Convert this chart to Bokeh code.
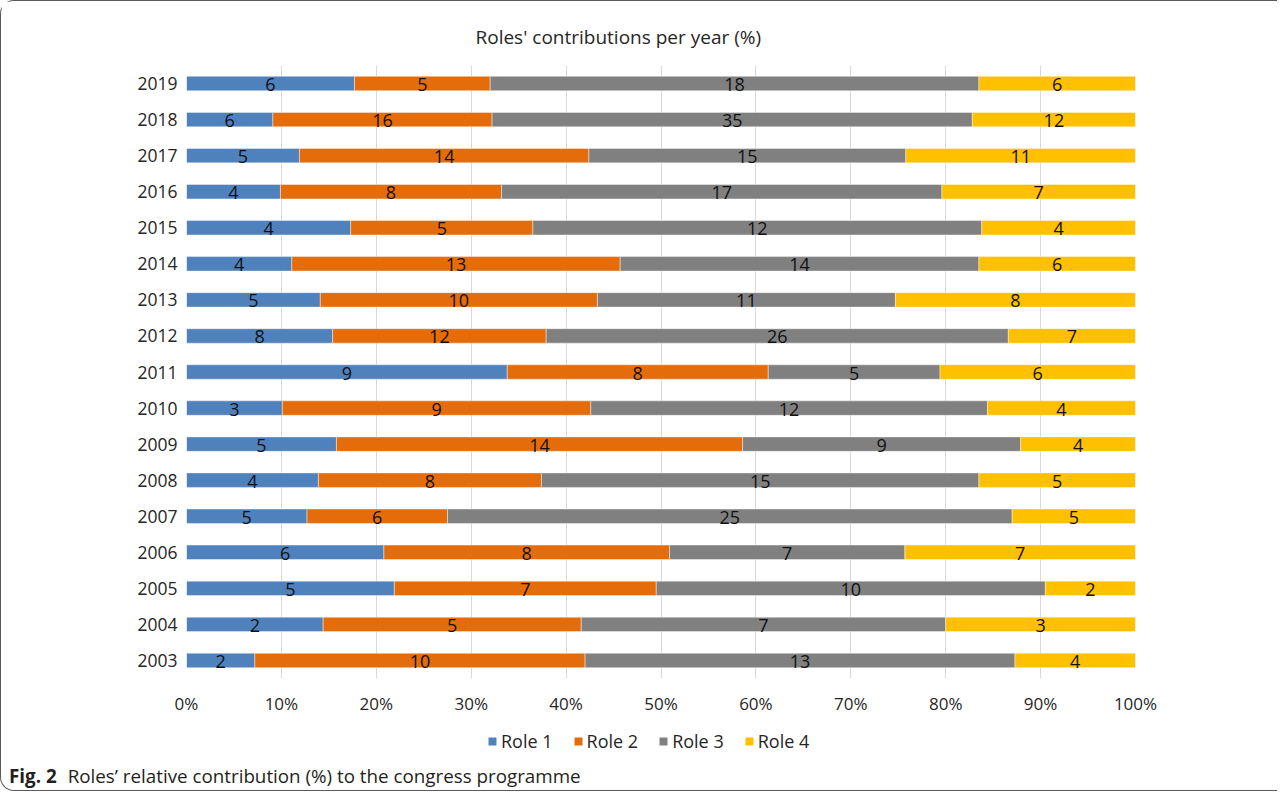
from bokeh.plotting import figure
from bokeh.layouts import column
from bokeh.models import (ColumnDataSource, FactorRange, Range1d, Legend, LegendItem,
                          FixedTicker, PrintfTickFormatter, Title, Div)
from bokeh.core.properties import value
from bokeh.embed import file_html
from bokeh.resources import INLINE

# ---------------- data ----------------
years = ["2003", "2004", "2005", "2006", "2007", "2008", "2009", "2010", "2011",
         "2012", "2013", "2014", "2015", "2016", "2017", "2018", "2019"]
roles = ["Role 1", "Role 2", "Role 3", "Role 4"]
colors = ["#4F81BD", "#E46C0A", "#808080", "#FFC000"]

# share of each role per year (%), bar lengths
role1_pct = [7.2, 14.4, 21.9, 20.8, 12.7, 13.9, 15.8, 10.1, 33.8, 15.4, 14.1, 11.1, 17.3, 9.9, 11.9, 9.1, 17.7]
role2_pct = [34.8, 27.2, 27.6, 30.1, 14.8, 23.5, 42.8, 32.5, 27.5, 22.5, 29.2, 34.6, 19.2, 23.3, 30.5, 23.1, 14.3]
role3_pct = [45.3, 38.4, 41.0, 24.8, 59.5, 46.1, 29.3, 41.8, 18.1, 48.7, 31.4, 37.8, 47.3, 46.4, 33.4, 50.6, 51.5]
role4_pct = [12.7, 20.0, 9.5, 24.3, 13.0, 16.5, 12.1, 15.6, 20.6, 13.4, 25.3, 16.5, 16.2, 20.4, 24.2, 17.2, 16.5]

# counts shown as data labels
role1_n = [2, 2, 5, 6, 5, 4, 5, 3, 9, 8, 5, 4, 4, 4, 5, 6, 6]
role2_n = [10, 5, 7, 8, 6, 8, 14, 9, 8, 12, 10, 13, 5, 8, 14, 16, 5]
role3_n = [13, 7, 10, 7, 25, 15, 9, 12, 5, 26, 11, 14, 12, 17, 15, 35, 18]
role4_n = [4, 3, 2, 7, 5, 5, 4, 4, 6, 7, 8, 6, 4, 7, 11, 12, 6]

x_ticks = [0, 10, 20, 30, 40, 50, 60, 70, 80, 90, 100]

title_text = "Roles' contributions per year (%)"
caption_bold = "Fig. 2"
caption_text = "Roles\u2019 relative contribution (%) to the congress programme"

# ---------------- main figure ----------------
FONT = "Open Sans"
W = 1276
H_MAIN = 717
H_LEG = 50
H_CAP = 22
BL, BR = 185, 142
p = figure(width=W, height=H_MAIN, output_backend="svg", toolbar_location=None,
           x_range=Range1d(0, 100), y_range=FactorRange(factors=years, range_padding=0),
           min_border_left=BL, min_border_right=BR, min_border_top=64, min_border_bottom=40)
p.outline_line_color = None
p.background_fill_color = "white"
p.border_fill_color = "white"

pcts = [role1_pct, role2_pct, role3_pct, role4_pct]
counts = [role1_n, role2_n, role3_n, role4_n]

left = [0.0] * len(years)
sources = []
lab_x, lab_y, lab_t = [], [], []
for role, col, pct, cnt in zip(roles, colors, pcts, counts):
    right = [l + v for l, v in zip(left, pct)]
    src = ColumnDataSource(dict(y=years, left=left, right=right))
    sources.append(src)
    p.hbar(y="y", left="left", right="right", height=0.4, source=src,
           fill_color=col, line_color="white", line_width=0.6, line_alpha=0.7)
    for yr, l, rr, c in zip(years, left, right, cnt):
        lab_x.append((l + rr) / 2)
        lab_y.append(yr)
        lab_t.append(str(c))
    left = right

lab_src = ColumnDataSource(dict(x=lab_x, y=lab_y, t=lab_t))
p.text(x="x", y="y", text="t", source=lab_src, text_align="center", text_baseline="middle",
       text_font=value(FONT), text_font_size="18px", text_color="#111111", y_offset=1)

# axes
p.xaxis.ticker = FixedTicker(ticks=x_ticks)
p.xaxis.formatter = PrintfTickFormatter(format="%d%%")
p.xaxis.axis_line_color = None
p.xaxis.major_tick_line_color = None
p.xaxis.minor_tick_line_color = None
p.xaxis.major_tick_out = 0
p.xaxis.major_label_standoff = 13
p.xaxis.major_label_text_font = FONT
p.xaxis.major_label_text_font_size = "17px"
p.xaxis.major_label_text_color = "#262626"

p.yaxis.axis_line_color = None
p.yaxis.major_tick_line_color = None
p.yaxis.major_tick_out = 0
p.yaxis.major_label_standoff = 9
p.yaxis.major_label_text_font = FONT
p.yaxis.major_label_text_font_size = "17.5px"
p.yaxis.major_label_text_color = "#262626"

p.xgrid.grid_line_color = "#D9D9D9"
p.xgrid.grid_line_width = 1
p.xgrid.ticker = FixedTicker(ticks=x_ticks)
p.ygrid.grid_line_color = None

# title
p.title = Title(text=title_text, align="left", offset=289, standoff=32,
                text_font=FONT, text_font_size="19px", text_font_style="normal",
                text_color="#262626")

# ---------------- legend strip ----------------
# legend keys reuse the bar sources; zero-height, out-of-view bars so only keys show
lg = figure(width=W, height=H_LEG, output_backend="svg", toolbar_location=None,
            x_range=Range1d(101, 102), y_range=FactorRange(factors=years, range_padding=0),
            x_axis_type=None, y_axis_type=None,
            min_border_left=BL, min_border_right=BR, min_border_top=0, min_border_bottom=0)
lg.outline_line_color = None
lg.grid.visible = False
lg.background_fill_color = "white"
leg_items = []
for role, col, src in zip(roles, colors, sources):
    rk = lg.hbar(y="y", left="left", right="right", height=0, source=src,
                 fill_color=col, line_color=None)
    leg_items.append(LegendItem(label=role, renderers=[rk]))
legend = Legend(items=leg_items, orientation="horizontal", location=(301, 15),
                glyph_width=10, glyph_height=10, label_standoff=4, spacing=20,
                label_text_font=FONT, label_text_font_size="18px", label_text_color="#262626",
                border_line_color=None, background_fill_alpha=0, padding=0, margin=0)
lg.add_layout(legend, "center")

# ---------------- caption ----------------
cap = Div(text=('<span style="font-weight:bold">' + caption_bold + '</span>'
                '<span style="margin-left:11px">' + caption_text + '</span>'),
          width=W, height=H_CAP, margin=0,
          styles={"font-family": "'Open Sans'", "font-size": "18.8px", "color": "#231F20",
                  "line-height": "16px", "padding-left": "8px", "white-space": "nowrap"})

layout = column(p, lg, cap, spacing=0,
                styles={"border-left": "1px solid #5a5a5a", "border-top": "1px solid #5a5a5a",
                        "border-bottom": "1px solid #5a5a5a",
                        "border-top-left-radius": "14px", "border-bottom-left-radius": "14px",
                        "background-color": "white"})

open("out.html", "w").write(file_html(layout, INLINE))
